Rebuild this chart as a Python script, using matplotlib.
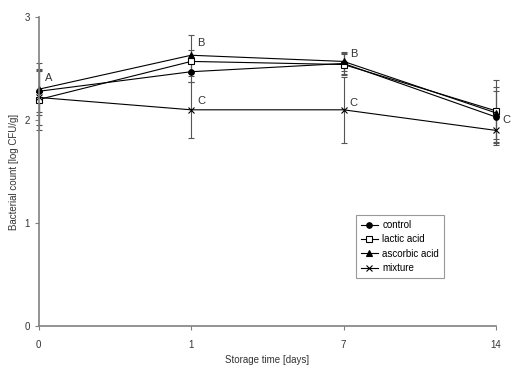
import numpy as np
import matplotlib.pyplot as plt
from matplotlib.lines import Line2D

days = ['0', '1', '7', '14']
control = [2.28, 2.47, 2.55, 2.03]
lactic = [2.20, 2.57, 2.54, 2.09]
ascorbic = [2.30, 2.63, 2.57, 2.07]
mixture = [2.22, 2.10, 2.10, 1.90]

control_err = [0.20, 0.10, 0.10, 0.25]
lactic_err = [0.30, 0.11, 0.10, 0.30]
ascorbic_err = [0.25, 0.20, 0.09, 0.25]
mixture_err = [0.27, 0.27, 0.32, 0.14]

letters = ['A', 'B', 'B', 'C']
letters_y = [2.38, 2.72, 2.61, 1.97]
letters2 = ['', 'C', 'C', '']
letters2_y = [0, 2.16, 2.14, 0]

plt.rcParams['font.family'] = 'Liberation Sans'
plt.rcParams['font.size'] = 7

fig = plt.figure(figsize=(5.31, 3.73), dpi=100)
ax = fig.add_axes([0.073, 0.126, 0.861, 0.828])

x = np.arange(len(days))
series = [
    ('control', control, control_err, 'o', 'black'),
    ('lactic acid', lactic, lactic_err, 's', 'white'),
    ('ascorbic acid', ascorbic, ascorbic_err, '^', 'black'),
    ('mixture', mixture, mixture_err, 'x', 'black'),
]
handles = []
for name, y, err, m, fc in series:
    eb = ax.errorbar(x, y, yerr=err, color='black', lw=0.8, marker=m, ms=4,
                     mfc=fc, mec='black', mew=0.8, ecolor='#555555', elinewidth=0.8,
                     capsize=2, capthick=0.8)
    for art in eb.lines[1] + eb.lines[2] + (eb.lines[0],):
        art.set_clip_on(False)
    handles.append(Line2D([], [], color='black', lw=0.8, marker=m, ms=4,
                          mfc=fc, mec='black', mew=0.8, label=name))

for i in range(len(days)):
    ax.text(x[i] + 0.04, letters_y[i], letters[i], fontsize=8, color='#333333')
    if letters2[i]:
        ax.text(x[i] + 0.04, letters2_y[i], letters2[i], fontsize=8, color='#333333')

ax.set_xlim(0, 3)
ax.set_ylim(0, 3)
ax.set_xticks(x)
ax.set_xticklabels(days)
ax.set_yticks([0, 1, 2, 3])
for s in ['top', 'right']:
    ax.spines[s].set_visible(False)
for s in ['left', 'bottom']:
    ax.spines[s].set_color('#808080')
    ax.spines[s].set_linewidth(1.2)
ax.tick_params(colors='#808080', labelcolor='#333333', length=3)
ax.tick_params(axis='x', pad=7)
ax.set_xlabel('Storage time [days]', color='#333333')
ax.set_ylabel('Bacterial count [log CFU/g]', color='#333333')

leg = ax.legend(handles=handles, loc='lower left', bbox_to_anchor=(0.683, 0.14),
                fancybox=False, edgecolor='#808080', handlelength=1.8,
                handletextpad=0.4, borderpad=0.5, labelspacing=0.45, fontsize=7)
leg.get_frame().set_linewidth(0.8)

fig.savefig('out.png', dpi=100)
